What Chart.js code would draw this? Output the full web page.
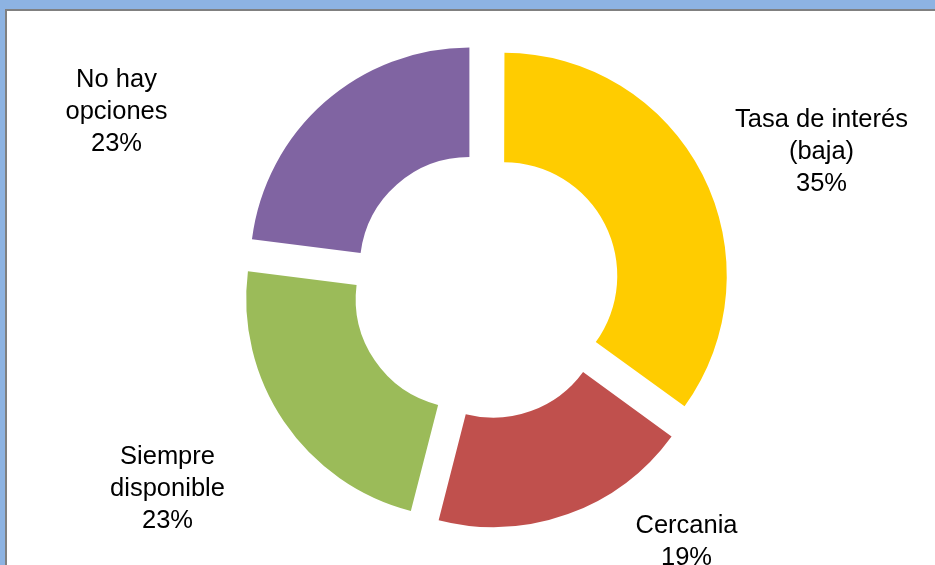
<!DOCTYPE html>
<html>
<head>
<meta charset="utf-8">
<script src="https://cdn.jsdelivr.net/npm/chart.js@4"></script>
<style>
  html, body { margin: 0; padding: 0; width: 935px; height: 565px; overflow: hidden; background: #8DB3E2; }
  #frame { position: absolute; left: 5px; top: 9px; right: 0; bottom: 0; background: #ffffff; border-top: 2px solid #808080; border-left: 2px solid #808080; }
  #wrap { position: absolute; left: 0; top: 0; width: 935px; height: 565px; }
</style>
</head>
<body>
<div id="frame"></div>
<div id="wrap"><canvas id="c" width="935" height="565"></canvas></div>
<script>
const categories = [
  ["Tasa de interés", "(baja)"],
  ["Cercania"],
  ["Siempre", "disponible"],
  ["No hay", "opciones"]
];
const values = [35, 19, 23, 23];
const colors = ["#FFCC00", "#C0504D", "#9BBB59", "#8064A2"];
// label anchor offsets (first baseline) relative to the doughnut centre
const labelOffsets = [[336, -158], [201, 248], [-318, 179], [-369, -198]];
const explode = 24.5; // desired outward shift of every slice, px

const total = values.reduce((a, b) => a + b, 0);

const outsideLabels = {
  id: 'outsideLabels',
  afterDatasetsDraw(chart) {
    const ctx = chart.ctx;
    const meta = chart.getDatasetMeta(0);
    ctx.save();
    ctx.font = '25.5px "Liberation Sans", Arial, sans-serif';
    ctx.fillStyle = '#000000';
    ctx.textAlign = 'center';
    ctx.textBaseline = 'alphabetic';
    const lh = 32;
    meta.data.forEach((arc, i) => {
      const lines = categories[i].concat([Math.round(values[i] / total * 100) + '%']);
      const x = arc.x + labelOffsets[i][0];
      const y = arc.y + labelOffsets[i][1];
      lines.forEach((t, k) => ctx.fillText(t, x, y + k * lh));
    });
    ctx.restore();
  }
};

new Chart(document.getElementById('c'), {
  type: 'doughnut',
  data: {
    labels: categories.map(c => c.join(' ')),
    datasets: [{
      data: values,
      backgroundColor: colors,
      borderWidth: 0,
      offset: (c) => {
        const circ = values[c.dataIndex] / total * 2 * Math.PI;
        return 4 * explode / (2 - Math.sin(Math.min(Math.PI, circ)));
      },
      hoverOffset: 0
    }]
  },
  options: {
    responsive: false,
    animation: false,
    events: [],
    cutout: '50%',
    radius: 219,
    layout: { padding: { left: 36, right: 0, top: 5, bottom: 0 } },
    plugins: { legend: { display: false }, tooltip: { enabled: false } }
  },
  plugins: [outsideLabels]
});
</script>
</body>
</html>
